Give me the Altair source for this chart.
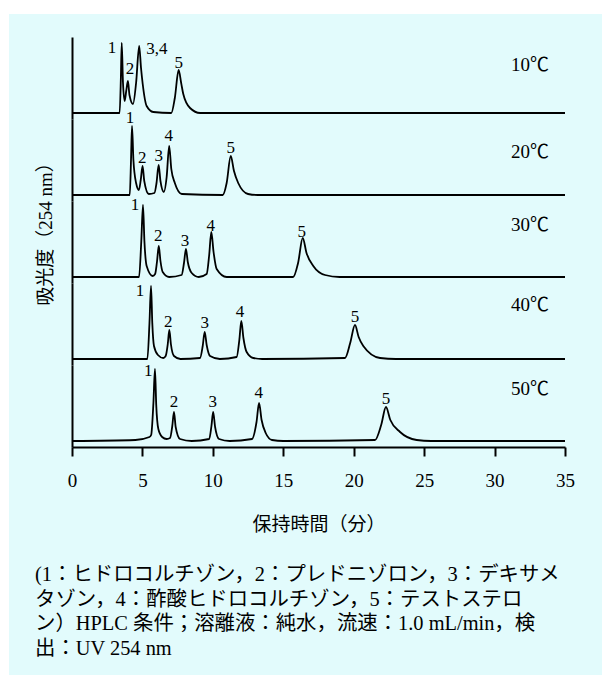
import altair as alt
import pandas as pd

FONT = "'Liberation Serif', 'Noto Sans CJK JP', serif"
BG = "#e2fbfc"

temps = ["10℃", "20℃", "30℃", "40℃", "50℃"]
temp_h = [48, 43, 52, 54, 52]
temp_t = 33.86

# chromatogram vertices: retention time (min) and signal above baseline
t10 = [0, 3.38, 3.47, 3.53, 3.62, 3.74, 3.85, 3.97, 4.08, 4.33, 4.55, 4.77, 4.90, 5.02, 5.30, 5.77,
       7.05, 7.30, 7.57, 7.75, 7.90, 8.38, 9.1, 35]
a10 = [0, 0, 35, 70, 30, 12, 22, 32, 18, 9, 30, 67, 45, 29, 7, 1,
       0, 15, 43, 30, 19, 5, 0, 0]

t20 = [0, 4.10, 4.19, 4.26, 4.36, 4.55, 4.75, 4.88, 5.01, 5.13, 5.45, 5.85, 6.00, 6.15, 6.28, 6.52,
       6.72, 6.90, 7.05, 7.30, 7.80, 10.70, 10.98, 11.27, 11.50, 11.80, 12.50, 13.20, 35]
a20 = [0, 0, 35, 69, 35, 12, 5, 15, 29, 14, 1, 2, 12, 30, 14, 3,
       18, 49, 26, 12, 1, 0, 12, 39, 24, 12, 1, 0, 0]

t30 = [0, 4.76, 4.92, 5.04, 5.14, 5.30, 5.73, 5.90, 6.04, 6.16, 6.28, 6.44, 6.90,
       7.78, 7.95, 8.09, 8.22, 8.50, 9.00, 9.56, 9.74, 9.89, 10.05, 10.27, 10.98,
       15.70, 16.05, 16.38, 16.65, 17.13, 17.96, 19.00, 35]
a30 = [0, 0, 36, 72, 36, 11, 1, 3, 16, 31, 16, 5, 0,
       2, 14, 28, 15, 4, 0, 3, 22, 45, 25, 8, 0,
       0, 14, 39, 24, 11, 2, 0, 0]

t40 = [0, 5.35, 5.50, 5.61, 5.70, 5.82, 6.10, 6.48, 6.65, 6.80, 6.91, 7.02, 7.24, 7.70,
       9.09, 9.28, 9.42, 9.56, 9.80, 10.50, 11.69, 11.88, 12.02, 12.17, 12.40, 12.87, 13.50,
       19.38, 19.75, 20.09, 20.35, 20.68, 21.87, 23.00, 35]
a40 = [0, 0, 36, 73, 36, 13, 4, 1, 3, 15, 29, 15, 3, 0,
       1, 13, 27, 14, 3, 0, 2, 19, 38, 21, 7, 1, 0,
       1, 16, 34, 22, 13, 1, 0, 0]

t50 = [0, 4.50, 5.50, 5.62, 5.78, 5.89, 5.98, 6.13, 6.40, 6.72, 6.96, 7.12, 7.24, 7.36, 7.67, 8.50,
       9.74, 9.90, 10.02, 10.16, 10.44, 11.20, 12.78, 13.10, 13.28, 13.46, 13.75, 14.20, 15.00,
       21.51, 21.95, 22.29, 22.60, 23.29, 24.47, 25.50, 35]
a50 = [0, 1, 4, 6, 38, 72, 36, 12, 4, 2, 3, 15, 29, 14, 2, 0,
       2, 15, 29, 14, 2, 0, 2, 19, 38, 21, 8, 1, 0,
       1, 16, 34, 21, 9, 1, 0, 0]

# peak labels
lab10 = ["1", "2", "3,4", "5"]
lt10 = [2.84, 4.12, 6.03, 7.57]
lh10 = [65, 44, 64, 50]
lab20 = ["1", "2", "3", "4", "5"]
lt20 = [4.12, 4.99, 6.16, 6.86, 11.27]
lh20 = [77, 37, 39, 59, 47]
lab30 = ["1", "2", "3", "4", "5"]
lt30 = [4.47, 6.13, 8.02, 9.85, 16.31]
lh30 = [72, 41, 36, 51, 45]
lab40 = ["1", "2", "3", "4", "5"]
lt40 = [4.83, 6.84, 9.42, 11.93, 20.09]
lh40 = [68, 37, 36, 47, 42]
lab50 = ["1", "2", "3", "4", "5"]
lt50 = [5.42, 7.24, 9.99, 13.25, 22.29]
lh50 = [70, 39, 39, 48, 42]

x_ticks = [0, 5, 10, 15, 20, 25, 30, 35]

caption = [
    "(1：ヒドロコルチゾン，2：プレドニゾロン，3：デキサメ",
    "タゾン，4：酢酸ヒドロコルチゾン，5：テストステロ",
    "ン）HPLC 条件；溶離液：純水，流速：1.0 mL/min，検",
    "出：UV 254 nm",
]

traces = [(t10, a10), (t20, a20), (t30, a30), (t40, a40), (t50, a50)]
labels = [(lab10, lt10, lh10), (lab20, lt20, lh20), (lab30, lt30, lh30),
          (lab40, lt40, lh40), (lab50, lt50, lh50)]

xscale = alt.Scale(domain=[0, 35], nice=False, zero=False)
yscale = alt.Scale(domain=[-6, 76], nice=False, zero=False)

one = pd.DataFrame({"k": [0]})

panels = []
for i in range(5):
    last = i == 4
    if last:
        xaxis = alt.Axis(values=x_ticks, tickSize=9, tickWidth=2, tickColor="black",
                         domainColor="black", domainWidth=2, labelFontSize=19,
                         labelColor="black", labelPadding=15, labelFlush=False,
                         title="保持時間（分）", titleFontSize=19, titleFontWeight="normal",
                         titleColor="black", titlePadding=25, grid=False)
    else:
        xaxis = None
    if i == 2:
        yaxis = alt.Axis(labels=False, ticks=False, grid=False, domainColor="black",
                         domainWidth=2, title="吸光度（254 nm）", titleFontSize=19,
                         titleFontWeight="normal", titleColor="black", titlePadding=17,
                         titleY=28)
    else:
        yaxis = alt.Axis(labels=False, ticks=False, grid=False, domainColor="black",
                         domainWidth=2, title=None)
    t, a = traces[i]
    df = pd.DataFrame({"t": t, "a": a})
    line = alt.Chart(df).mark_line(color="black", strokeWidth=1.8,
                                   interpolate="monotone").encode(
        x=alt.X("t:Q", scale=xscale, axis=xaxis),
        y=alt.Y("a:Q", scale=yscale, axis=yaxis),
    )
    lb, lt, lh = labels[i]
    ldf = pd.DataFrame({"t": lt, "a": lh, "lab": lb})
    ltext = alt.Chart(ldf).mark_text(fontSize=17, color="black", baseline="middle").encode(
        x=alt.X("t:Q", scale=xscale), y=alt.Y("a:Q", scale=yscale), text="lab:N"
    )
    tdf = pd.DataFrame({"t": [temp_t], "a": [temp_h[i]], "lab": [temps[i]]})
    ttext = alt.Chart(tdf).mark_text(fontSize=19, color="black", align="right",
                                     baseline="middle").encode(
        x=alt.X("t:Q", scale=xscale), y=alt.Y("a:Q", scale=yscale), text="lab:N"
    )
    layers = [line, ltext, ttext]
    if i == 0:
        # white page margin around the tinted figure box (top and left strips)
        top_strip = alt.Chart(one).mark_rect(color="white").encode(
            x=alt.value(-72), x2=alt.value(530), y=alt.value(-37), y2=alt.value(-23))
        left_strip = alt.Chart(one).mark_rect(color="white").encode(
            x=alt.value(-72), x2=alt.value(-63), y=alt.value(-37), y2=alt.value(638))
        layers = [top_strip, left_strip] + layers
    panels.append(alt.layer(*layers).properties(width=493, height=82))

chart = alt.vconcat(*panels, spacing=0, bounds="flush").properties(
    padding=0,
    background=BG,
    title=alt.TitleParams(text=caption, orient="bottom", anchor="start", fontSize=20.4,
                          fontWeight="normal", color="black", lineHeight=24.5,
                          offset=-110, dx=35),
).configure(font=FONT).configure_view(stroke=None)

chart.save("out.html", embed_options={"renderer": "svg", "actions": False})
